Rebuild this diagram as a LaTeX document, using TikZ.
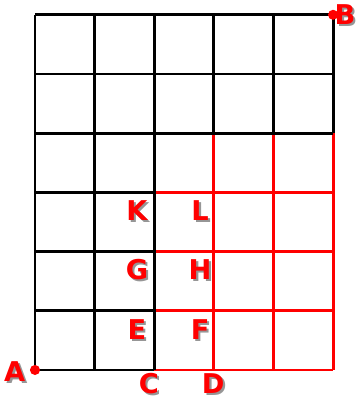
\documentclass[tikz,border=0pt]{standalone}
\usepackage{fontspec}
\setmainfont{DejaVu Sans}
\usepackage{tikz}
\usetikzlibrary{positioning}
\definecolor{ptred}{RGB}{255,0,0}
\definecolor{shadowgray}{RGB}{150,150,150}
\tikzset{
    gridline/.style={line width=1.4pt, draw=black},
    redline/.style={line width=1.4pt, draw=ptred},
    ptlbl/.style={font=\fontsize{13}{15}\selectfont\bfseries, text=ptred, inner sep=0pt},
    shlbl/.style={ptlbl, text=shadowgray},
    ptdot/.style={fill=ptred},
}

\begin{document}
\begin{tikzpicture}[x=1cm, y=0.993cm]
    \useasboundingbox (-0.587,-0.524) rectangle (5.386,6.25);
    % red part of the grid
    \foreach \i in {2,...,5} \draw[redline] (\i,0) -- (\i,4);
    \foreach \j in {0,...,3} \draw[redline] (2,\j) -- (5,\j);
    % black part of the grid
    \foreach \i in {0,1,2} \draw[gridline] (\i,0) -- (\i,6);
    \foreach \i in {3,4,5} \draw[gridline] (\i,4) -- (\i,6);
    \foreach \j in {0,...,3} \draw[gridline] (0,\j) -- (2,\j);
    \foreach \j in {4,5,6} \draw[gridline] (0,\j) -- (5,\j);
    % corner points
    \coordinate (pA) at (0,0);
    \coordinate (pB) at (5,6);
    \fill[ptdot] (pA) circle (0.085);
    \fill[ptdot] (pB) circle (0.085);
    % labels with shadow
    \foreach \lbl/\px/\py in {A/-0.34/-0.03, B/5.2/6.0, C/1.91/-0.23, D/2.99/-0.23,
                              K/1.71/2.70, L/2.77/2.70, G/1.71/1.69, H/2.77/1.69,
                              E/1.71/0.68, F/2.77/0.68} {
        \node[shlbl] at (\px+0.035,\py-0.035) {\lbl};
        \node[ptlbl] (\lbl) at (\px,\py) {\lbl};
    }
\end{tikzpicture}
\end{document}
